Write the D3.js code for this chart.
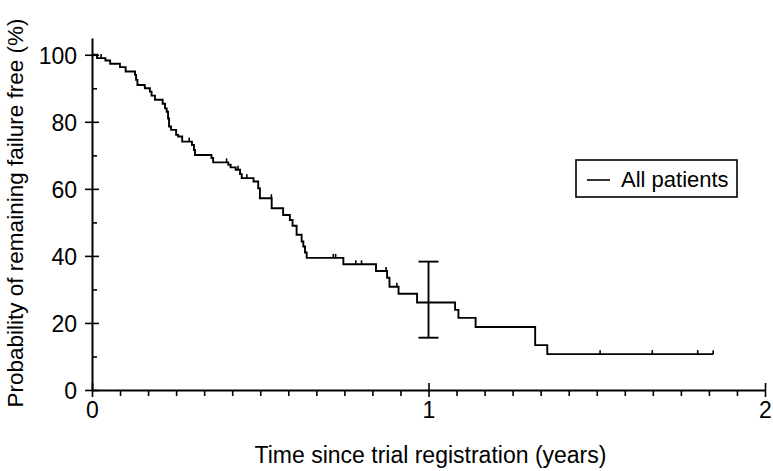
<!DOCTYPE html>
<html>
<head>
<meta charset="utf-8">
<script src="https://cdn.jsdelivr.net/npm/d3@7"></script>
<style>
    body { margin: 0; background: #fff; }
    text { font-family: "Liberation Sans", Arial, Helvetica, sans-serif; fill: #000; }
</style>
</head>
<body>
<div id="kmplot"></div>
<script>
// step times (years) and survival (%) just after each step
var stepTimes = [0, 0.015, 0.040, 0.054, 0.083, 0.100, 0.128, 0.131, 0.135, 0.157,
    0.172, 0.177, 0.187, 0.210, 0.217, 0.222, 0.226, 0.229, 0.235, 0.250,
    0.256, 0.268, 0.297, 0.303, 0.306, 0.355, 0.360, 0.405, 0.412, 0.427,
    0.440, 0.445, 0.480, 0.494, 0.499, 0.534, 0.568, 0.588, 0.596, 0.608,
    0.623, 0.628, 0.633, 0.638, 0.747, 0.844, 0.877, 0.884, 0.911, 0.966,
    1.079, 1.089, 1.140, 1.317, 1.353, 1.846];
var survival = [100, 99.0, 98.3, 97.3, 96.3, 95.0, 94.0, 92.5, 91.0, 90.0,
    89.0, 87.8, 86.6, 85.4, 84.0, 83.0, 81.0, 78.6, 77.6, 76.1,
    75.6, 74.1, 73.1, 71.6, 70.1, 69.2, 67.9, 67.2, 66.4, 65.7,
    64.4, 63.2, 62.2, 60.2, 57.2, 54.2, 52.2, 50.7, 49.0, 46.3,
    44.3, 42.8, 41.0, 39.4, 37.5, 35.5, 33.5, 30.8, 28.7, 26.1,
    23.9, 21.5, 18.8, 13.4, 10.7, 10.7];
// censored observations (years)
var censorTimes = [0.027, 0.128, 0.289, 0.400, 0.434, 0.460, 0.533, 0.717, 0.724,
    0.784, 0.801, 0.874, 0.906, 1.51, 1.665, 1.80, 1.846];
// 95% CI at 1 year
var ciTime = 1;
var ciLower = 15.6;
var ciUpper = 38.3;

var xTicks = [0, 1, 2];
var yTicks = [0, 20, 40, 60, 80, 100];
var legendLabel = "All patients";

var margin = {top: 38, right: 8, bottom: 81, left: 92};
var width = 773 - margin.left - margin.right;
var height = 471 - margin.top - margin.bottom;

var svg = d3.select("#kmplot")
    .append("svg")
    .attr("width", 773)
    .attr("height", 471)
    .append("g")
    .attr("transform", "translate(" + margin.left + "," + margin.top + ")");

var x = d3.scaleLinear().domain([0, 2]).range([0, width]);
var y = d3.scaleLinear().domain([0, 105]).range([height, 0]);

// minor ticks: monthly on x (outside), every 10% on y (inside)
svg.append("g")
    .attr("transform", "translate(0," + height + ")")
    .call(d3.axisBottom(x).tickValues(d3.range(1, 24).map(function (m) { return m / 12; }).filter(function (v) { return v !== 1; }))
        .tickSize(6).tickFormat(""))
    .call(function (g) { g.select(".domain").remove(); })
    .selectAll("line").attr("stroke-width", 1.6);

svg.append("g")
    .call(d3.axisRight(y).tickValues([10, 30, 50, 70, 90]).tickSize(5).tickFormat(""))
    .call(function (g) { g.select(".domain").remove(); })
    .selectAll("line").attr("stroke-width", 1.6);

// major axes
var xAxis = svg.append("g")
    .attr("transform", "translate(0," + height + ")")
    .call(d3.axisBottom(x).tickValues(xTicks).tickSize(7).tickPadding(5).tickSizeOuter(0).tickFormat(d3.format("d")));
xAxis.selectAll(".tick line").attr("y1", -7).attr("stroke-width", 1.6);
xAxis.select(".domain").attr("stroke-width", 2);
xAxis.selectAll("text").style("font-size", "23px");

var yAxis = svg.append("g")
    .call(d3.axisLeft(y).tickValues(yTicks).tickSize(7).tickPadding(8).tickSizeOuter(0));
yAxis.selectAll(".tick line").attr("x1", 7).attr("stroke-width", 1.6);
yAxis.select(".domain").attr("stroke-width", 2);
yAxis.selectAll("text").style("font-size", "23px").attr("dy", "0.36em");

// survival curve
var points = stepTimes.map(function (t, i) { return [t, survival[i]]; });
var line = d3.line()
    .x(function (d) { return x(d[0]); })
    .y(function (d) { return y(d[1]); })
    .curve(d3.curveStepAfter);

svg.append("path")
    .datum(points)
    .attr("d", line)
    .attr("fill", "none")
    .attr("stroke", "#000")
    .attr("stroke-width", 1.9);

// censor marks
var bisect = d3.bisector(function (d) { return d; }).right;
svg.selectAll(".censor")
    .data(censorTimes)
    .enter()
    .append("line")
    .attr("class", "censor")
    .attr("x1", function (d) { return x(d); })
    .attr("x2", function (d) { return x(d); })
    .attr("y1", function (d) { return y(survival[bisect(stepTimes, d) - 1]); })
    .attr("y2", function (d) { return y(survival[bisect(stepTimes, d) - 1]) - 4; })
    .attr("stroke", "#000")
    .attr("stroke-width", 1.6);

// confidence interval at 1 year
var ci = svg.append("g").attr("stroke", "#000").attr("stroke-width", 1.9);
ci.append("line")
    .attr("x1", x(ciTime)).attr("x2", x(ciTime))
    .attr("y1", y(ciLower)).attr("y2", y(ciUpper));
[ciLower, ciUpper].forEach(function (v) {
    ci.append("line")
        .attr("x1", x(ciTime) - 10).attr("x2", x(ciTime) + 10)
        .attr("y1", y(v)).attr("y2", y(v));
});

// legend
var legend = svg.append("g")
    .attr("transform", "translate(" + (576 - margin.left) + "," + (160 - margin.top) + ")");
legend.append("rect")
    .attr("width", 161)
    .attr("height", 37)
    .attr("fill", "#fff")
    .attr("stroke", "#000")
    .attr("stroke-width", 1.6);
legend.append("line")
    .attr("x1", 11).attr("x2", 34)
    .attr("y1", 20).attr("y2", 20)
    .attr("stroke", "#000")
    .attr("stroke-width", 1.6);
legend.append("text")
    .attr("x", 45)
    .attr("y", 27)
    .style("font-size", "22px")
    .text(legendLabel);

// axis titles
svg.append("text")
    .attr("x", width / 2 + 2)
    .attr("y", height + 73)
    .attr("text-anchor", "middle")
    .style("font-size", "23px")
    .text("Time since trial registration (years)");

svg.append("text")
    .attr("transform", "translate(" + (23 - margin.left) + "," + (height / 2 - 1) + ") rotate(-90)")
    .attr("text-anchor", "middle")
    .style("font-size", "22.5px")
    .text("Probability of remaining failure free (%)");
</script>
</body>
</html>
